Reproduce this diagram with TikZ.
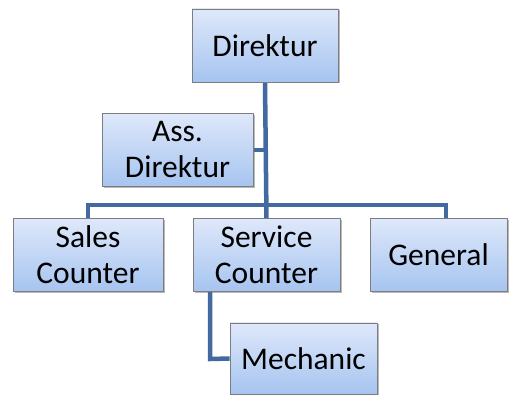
\documentclass[tikz,border=0pt]{standalone}
\usepackage{fontspec}
\setmainfont{Carlito}
\usetikzlibrary{shadows,backgrounds}
\definecolor{linkblue}{RGB}{66,106,160}
\definecolor{boxtop}{RGB}{222,232,250}
\definecolor{boxbot}{RGB}{166,196,240}
\definecolor{boxedge}{RGB}{125,125,125}
\tikzset{
  orgbox/.style={draw=boxedge, line width=0.8pt, top color=boxtop, bottom color=boxbot,
    minimum height=#1, inner sep=0pt, align=center,
    font=\fontsize{31.5}{36}\selectfont, text=black,
    drop shadow={shadow xshift=1.5pt, shadow yshift=-1.5pt, opacity=0.45, fill=black!60}},
  orgbox/.default=73pt,
  link/.style={draw=linkblue, line width=4.5pt}
}
\begin{document}
\begin{tikzpicture}[x=1pt,y=-1pt]
\useasboundingbox (0,0) rectangle (509,395);
\node[orgbox, minimum width=146pt] (dir) at (265,45.5) {Direktur};
\node[orgbox, minimum width=151pt] (ass) at (177.5,150) {Ass.\\Direktur};
\node[orgbox, minimum width=150pt] (sales) at (88,255) {Sales\\Counter};
\node[orgbox, minimum width=147pt] (serv) at (266.5,255) {Service\\Counter};
\node[orgbox, minimum width=137pt] (gen) at (438.5,255) {General};
\node[orgbox=71pt, minimum width=147pt] (mech) at (303.5,358.5) {Mechanic};
\coordinate (bar) at (266,205);
\coordinate (bend) at (210,359);
\begin{scope}[on background layer]
  \draw[link] (dir.south) -- (serv.north);
  \draw[link] (ass.east) -- (ass.east -| dir.south);
  \draw[link] (sales.north) |- (bar) -| (gen.north -| 446,0);
  \draw[link] (serv.south -| bend) -- (bend) -- (mech.west);
\end{scope}
\end{tikzpicture}
\end{document}
